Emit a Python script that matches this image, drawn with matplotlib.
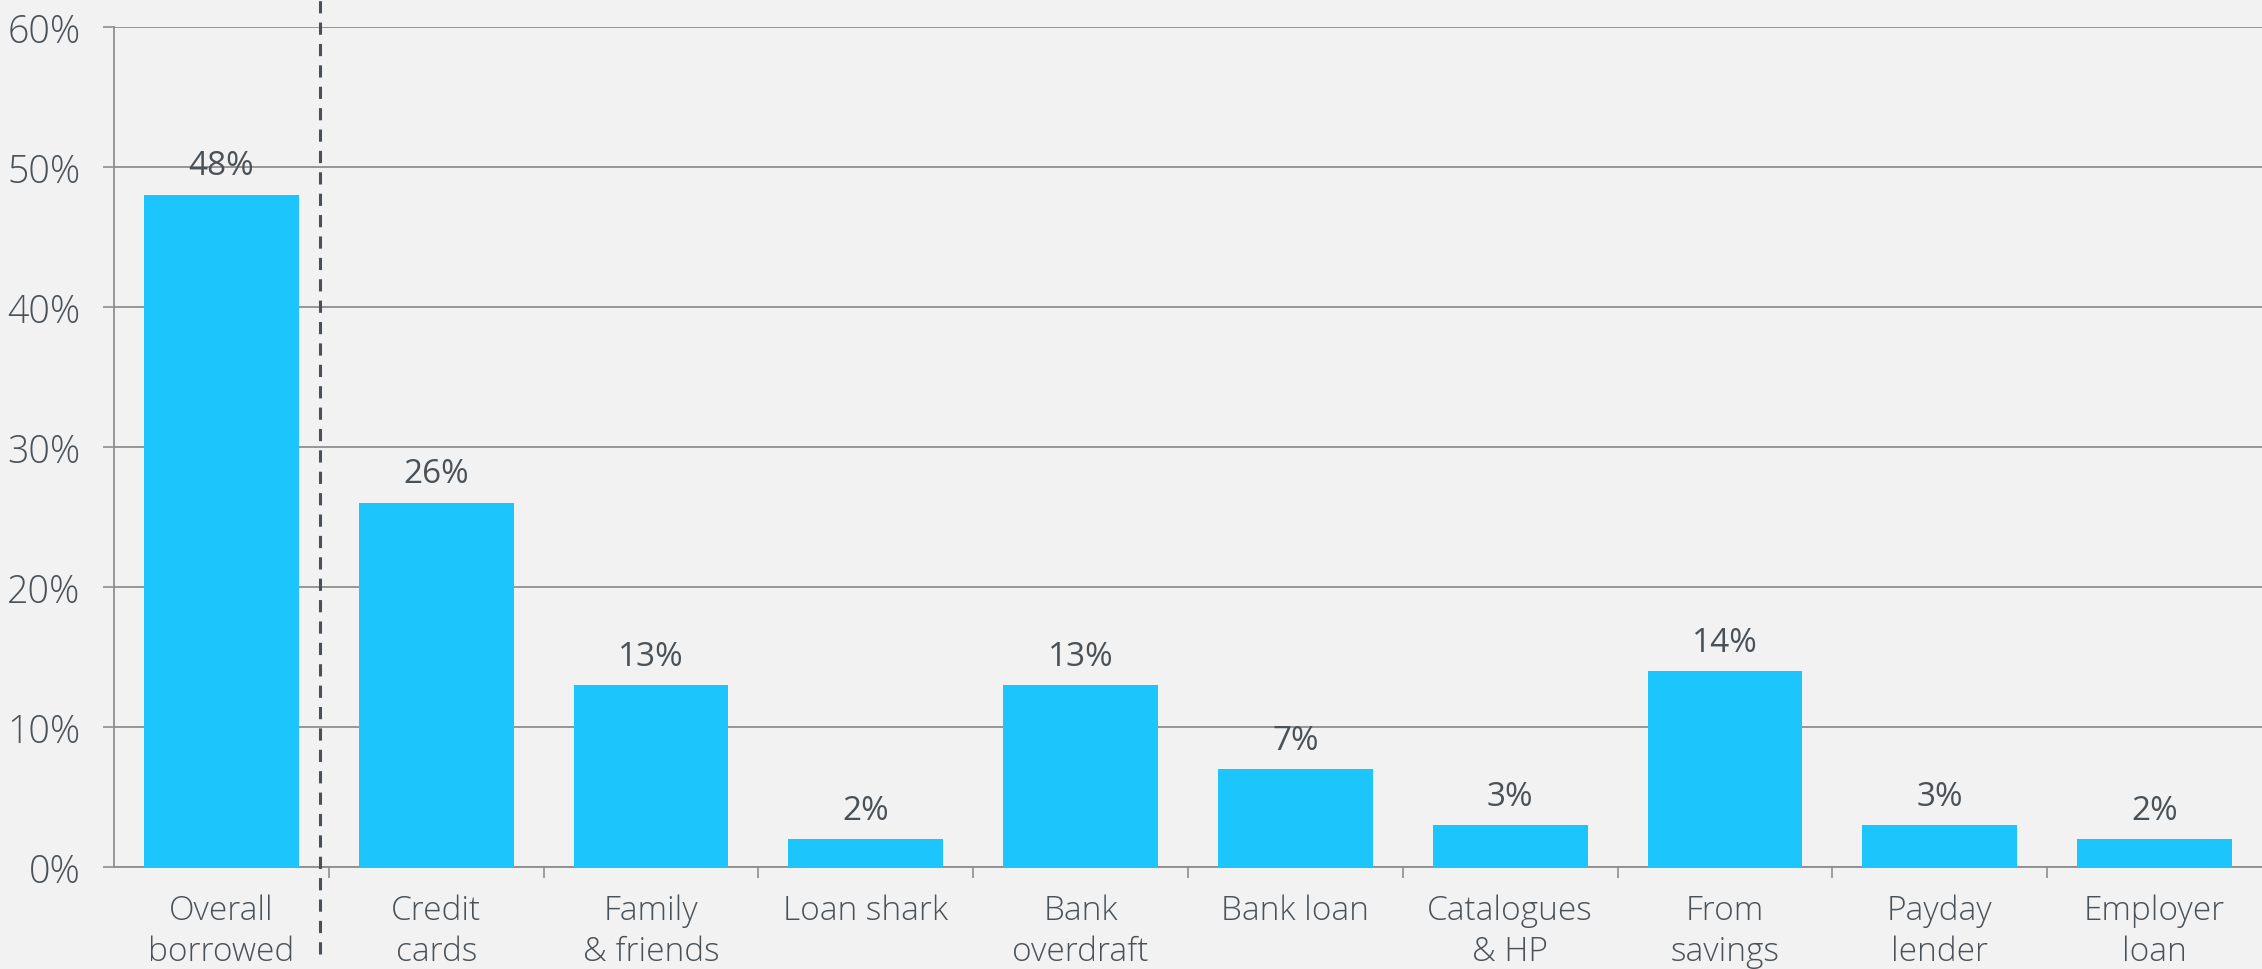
import matplotlib.pyplot as plt
import numpy as np

categories = ['Overall\nborrowed', 'Credit\ncards', 'Family\n& friends', 'Loan shark',
              'Bank\noverdraft', 'Bank loan', 'Catalogues\n& HP', 'From\nsavings',
              'Payday\nlender', 'Employer\nloan']
values = [48, 26, 13, 2, 13, 7, 3, 14, 3, 2]
yticks = [0, 10, 20, 30, 40, 50, 60]

bg = '#f2f2f2'
text_col = '#4a5259'
bar_col = '#1cc5fb'
grid_col = '#8f8f8f'

plt.rcParams['font.family'] = ['Open Sans', 'DejaVu Sans']

fig = plt.figure(figsize=(22.62, 9.70), dpi=100, facecolor=bg)
ax = fig.add_axes([114 / 2262, 1 - 868 / 970, 1 - 114 / 2262, 840 / 970])
ax.set_facecolor(bg)

x = np.arange(len(categories))
ax.bar(x, values, width=0.72, color=bar_col, zorder=3)

for xi, v in zip(x, values):
    ax.annotate(f'{v}%', (xi, v), xytext=(0, 9), textcoords='offset points',
                ha='center', va='bottom', fontsize=24, color=text_col, weight='medium')

ax.set_xlim(-0.5, len(categories) - 0.5)
ax.set_ylim(0, 60)
ax.set_yticks(yticks)
ax.set_yticklabels([f'{t}%' for t in yticks])
ax.yaxis.grid(True, color=grid_col, linewidth=1.3, zorder=0)
ax.set_axisbelow(True)

ax.set_xticks(x)
ax.set_xticklabels(categories, linespacing=1.3)
ax.set_xticks(np.arange(0.5, len(categories) - 1, 1.0), minor=True)
ax.tick_params(axis='x', which='major', length=0, pad=19, labelsize=24, labelcolor=text_col)
ax.tick_params(axis='x', which='minor', length=8, width=1.2, color=grid_col, direction='out')
ax.tick_params(axis='y', length=8, width=1.2, color=grid_col, pad=16, labelsize=27,
               labelcolor=text_col)
for lbl in ax.get_yticklabels() + ax.get_xticklabels():
    lbl.set_fontweight('light')

for s in ['top', 'right']:
    ax.spines[s].set_visible(False)
for s in ['left', 'bottom']:
    ax.spines[s].set_color(grid_col)
    ax.spines[s].set_linewidth(1.3)

# divider between the overall figure and the individual sources
ax.axvline(0.46, ymin=-0.104, ymax=1.04, color='#4a5058', linestyle=(0, (4, 3)),
           linewidth=2.2, clip_on=False, zorder=4)

fig.savefig('out.png', dpi=100, facecolor=bg)
